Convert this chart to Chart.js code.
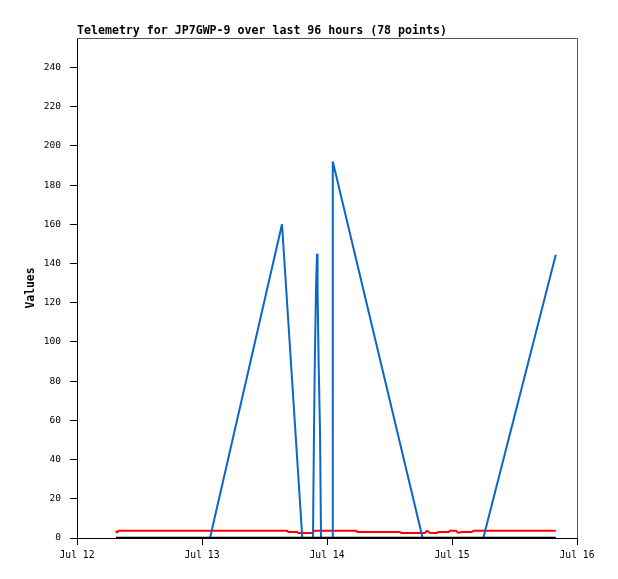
<!DOCTYPE html>
<html>
<head>
<meta charset="utf-8">
<script src="https://cdn.jsdelivr.net/npm/chart.js@4"></script>
<style>
    html, body { margin: 0; padding: 0; background: #fff; }
    #chart { display: block; }
</style>
</head>
<body>
<canvas id="chart" width="618" height="579"></canvas>
<script>
// hours since Jul 12 00:00
const dayLabels = ['Jul 12', 'Jul 13', 'Jul 14', 'Jul 15', 'Jul 16'];

const blueHours = [7.49, 25.54, 39.36, 43.26, 45.31, 45.50, 45.66, 45.89, 46.08, 46.19, 46.39, 46.66, 46.85, 49.04, 49.11, 66.36, 78.01, 91.93];
const blueValues = [0, 0, 160, 0, 0, 54, 90, 127, 145, 127, 90, 54, 0, 0, 192, 0, 0, 144.5];

const redHours = [7.49, 7.68, 7.97, 40.32, 40.51, 42.24, 42.43, 45.31, 45.50, 53.57, 53.76, 62.02, 62.21, 66.82, 67.20, 67.78, 69.12, 69.41, 71.42, 71.62, 72.77, 73.15, 73.92, 75.84, 76.13, 91.93];
const redValues = [3.7, 2.7, 3.7, 3.7, 3.1, 3.1, 2.6, 2.6, 3.7, 3.7, 3.1, 3.1, 2.6, 2.6, 3.7, 2.6, 2.6, 3.1, 3.1, 3.7, 3.7, 2.6, 3.1, 3.1, 3.7, 3.7];

const blackHours = [7.49, 91.93];
const blackValues = [0, 0];

function toPoints(xs, ys) {
    return xs.map((x, i) => ({ x: x, y: ys[i] }));
}

// top and right frame lines
const framePlugin = {
    id: 'frame',
    afterDraw(chart) {
        const a = chart.chartArea;
        const ctx = chart.ctx;
        ctx.save();
        ctx.strokeStyle = '#555';
        ctx.lineWidth = 1;
        ctx.beginPath();
        ctx.moveTo(a.left, Math.round(a.top) + 0.5);
        ctx.lineTo(Math.round(a.right) + 0.5, Math.round(a.top) + 0.5);
        ctx.lineTo(Math.round(a.right) + 0.5, a.bottom);
        ctx.stroke();
        ctx.restore();
    }
};

const mono = "'DejaVu Sans Mono', monospace";

new Chart(document.getElementById('chart'), {
    type: 'line',
    data: {
        datasets: [
            { data: toPoints(blackHours, blackValues), borderColor: '#000', borderWidth: 2.5, order: 0 },
            { data: toPoints(blueHours, blueValues), borderColor: '#0a66cc', borderWidth: 2, order: 1 },
            { data: toPoints(redHours, redValues), borderColor: '#ff0000', borderWidth: 2, order: 2 }
        ]
    },
    options: {
        responsive: false,
        animation: false,
        events: [],
        layout: { padding: { top: 24, right: 41, bottom: 0, left: 0 } },
        elements: {
            point: { radius: 0 },
            line: { tension: 0, borderCapStyle: 'butt', borderJoinStyle: 'bevel' }
        },
        plugins: {
            legend: { display: false },
            tooltip: { enabled: false },
            title: {
                display: true,
                text: 'Telemetry for JP7GWP-9 over last 96 hours (78 points)',
                align: 'start',
                fullSize: false,
                color: '#000',
                font: { family: mono, size: 11.6, weight: 'bold', lineHeight: 1.2 },
                padding: { top: 0, bottom: 0.1 }
            }
        },
        scales: {
            x: {
                type: 'linear',
                min: 0,
                max: 96,
                afterFit: s => { s.height = 41; },
                afterBuildTicks: s => { s.ticks = [0, 24, 48, 72, 96].map(v => ({ value: v })); },
                ticks: {
                    color: '#000',
                    font: { family: mono, size: 9.7 },
                    padding: 5,
                    maxRotation: 0,
                    autoSkip: false,
                    callback: v => dayLabels[v / 24]
                },
                grid: { drawOnChartArea: false, drawTicks: true, tickLength: 7, color: '#000' },
                border: { display: true, color: '#000' }
            },
            y: {
                min: 0,
                max: 255,
                afterFit: s => { s.width = 77; },
                afterBuildTicks: s => { s.ticks = s.ticks.filter(t => t.value <= 240); },
                ticks: {
                    stepSize: 20,
                    color: '#000',
                    font: { family: mono, size: 9.5 },
                    padding: 9
                },
                title: {
                    display: true,
                    text: 'Values',
                    color: '#000',
                    font: { family: mono, size: 11.4, weight: 'bold' },
                    padding: { top: 24, bottom: 0 }
                },
                grid: { drawOnChartArea: false, drawTicks: true, tickLength: 7, color: '#000' },
                border: { display: true, color: '#000' }
            }
        }
    },
    plugins: [framePlugin]
});
</script>
</body>
</html>
